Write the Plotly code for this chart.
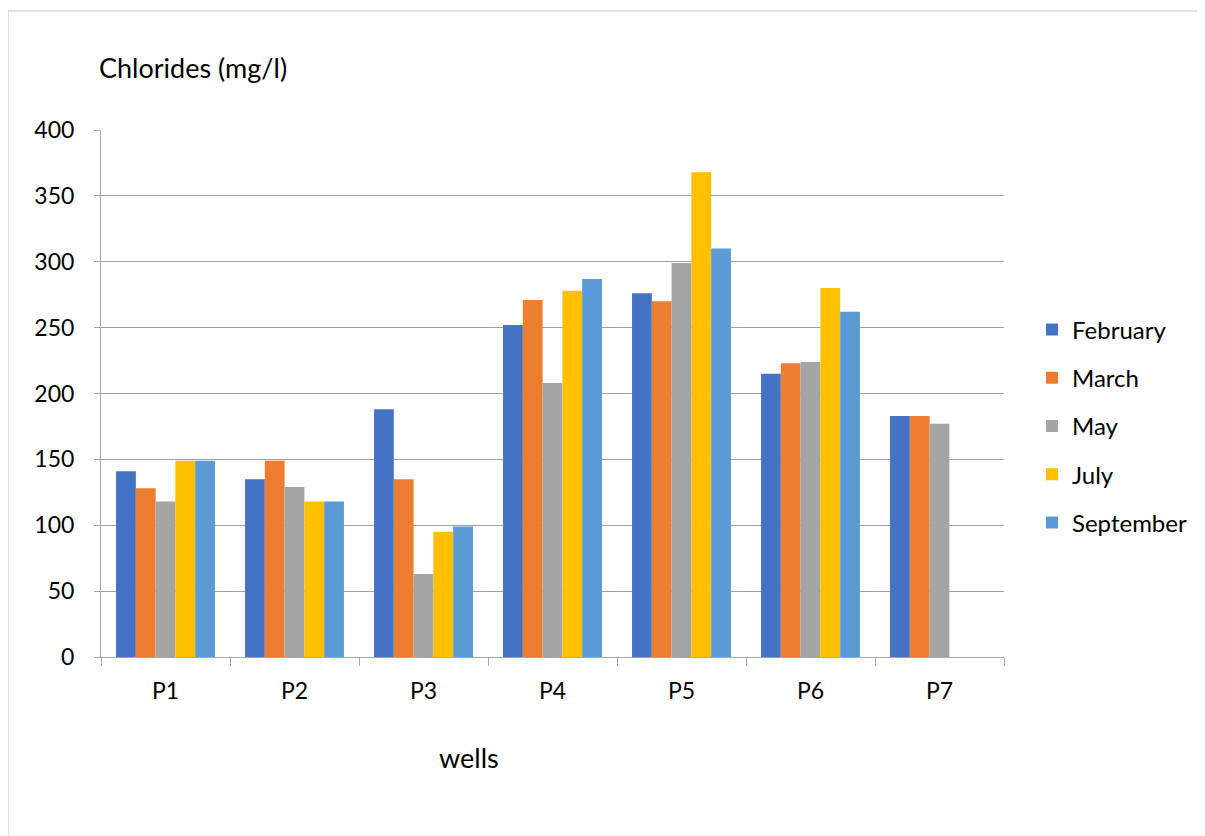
import plotly.graph_objects as go

wells = ["P1", "P2", "P3", "P4", "P5", "P6", "P7"]
months = ["February", "March", "May", "July", "September"]
february = [141, 135, 188, 252, 276, 215, 183]
march = [128, 149, 135, 271, 270, 223, 183]
may = [118, 129, 63, 208, 299, 224, 177]
july = [149, 118, 95, 278, 368, 280, None]
september = [149, 118, 99, 287, 310, 262, None]
colors = ["#4472C4", "#ED7D31", "#A5A5A5", "#FFC000", "#5B9BD5"]
series = [february, march, may, july, september]

FONT = "Lato"
OFF = 8  # page body margin
fig = go.Figure()
for name, vals, col in zip(months, series, colors):
    fig.add_trace(go.Bar(x=wells, y=vals, name=name, marker=dict(color=col, line=dict(width=0)),
                         legendgroup=name))

# target page coordinates of plot area
L, R, T, B = 101 - OFF, 1004 - OFF, 130 - OFF, 657 - OFF
W, H = 1205 - OFF, 836 - OFF
pw, ph = R - L, B - T


def px(x):
    return (x - OFF - L) / pw


def py(y):
    return (B - (y - OFF)) / ph


fig.update_layout(
    width=W, height=H,
    margin=dict(l=L, r=W - R, t=T, b=H - B),
    paper_bgcolor="white", plot_bgcolor="white",
    barmode="group", bargap=0.233, bargroupgap=0,
    font=dict(family=FONT, size=23, color="#000000"),
    legend=dict(x=px(1032), y=py(426), xanchor="left", yanchor="middle",
                font=dict(size=24), tracegroupgap=14, traceorder="grouped",
                itemwidth=30, bgcolor="rgba(0,0,0,0)"),
    showlegend=True,
)
fig.update_xaxes(
    showline=True, linecolor="#A6A6A6", linewidth=1,
    ticks="outside", tickson="boundaries", ticklen=8, tickcolor="#A6A6A6",
    ticklabelstandoff=13, showgrid=False,
)
fig.update_yaxes(
    range=[0, 400], dtick=50, showgrid=True, gridcolor="#A0A0A0", gridwidth=1,
    showline=True, linecolor="#A6A6A6", linewidth=1,
    ticks="outside", ticklen=6, tickcolor="#A6A6A6", ticklabelstandoff=15,
    zeroline=False,
)
fig.add_annotation(text="Chlorides (mg/l)", xref="paper", yref="paper",
                   x=px(97), y=py(68), xanchor="left", yanchor="middle",
                   showarrow=False, font=dict(size=27))
fig.add_annotation(text="wells", xref="paper", yref="paper",
                   x=px(469), y=py(757), xanchor="center", yanchor="middle",
                   showarrow=False, font=dict(size=27))
fig.add_shape(type="rect", xref="paper", yref="paper",
              x0=px(8), x1=px(1215), y0=py(860), y1=py(11),
              line=dict(color="#BFBFBF", width=1), layer="below")

fig.write_html("out.html")
